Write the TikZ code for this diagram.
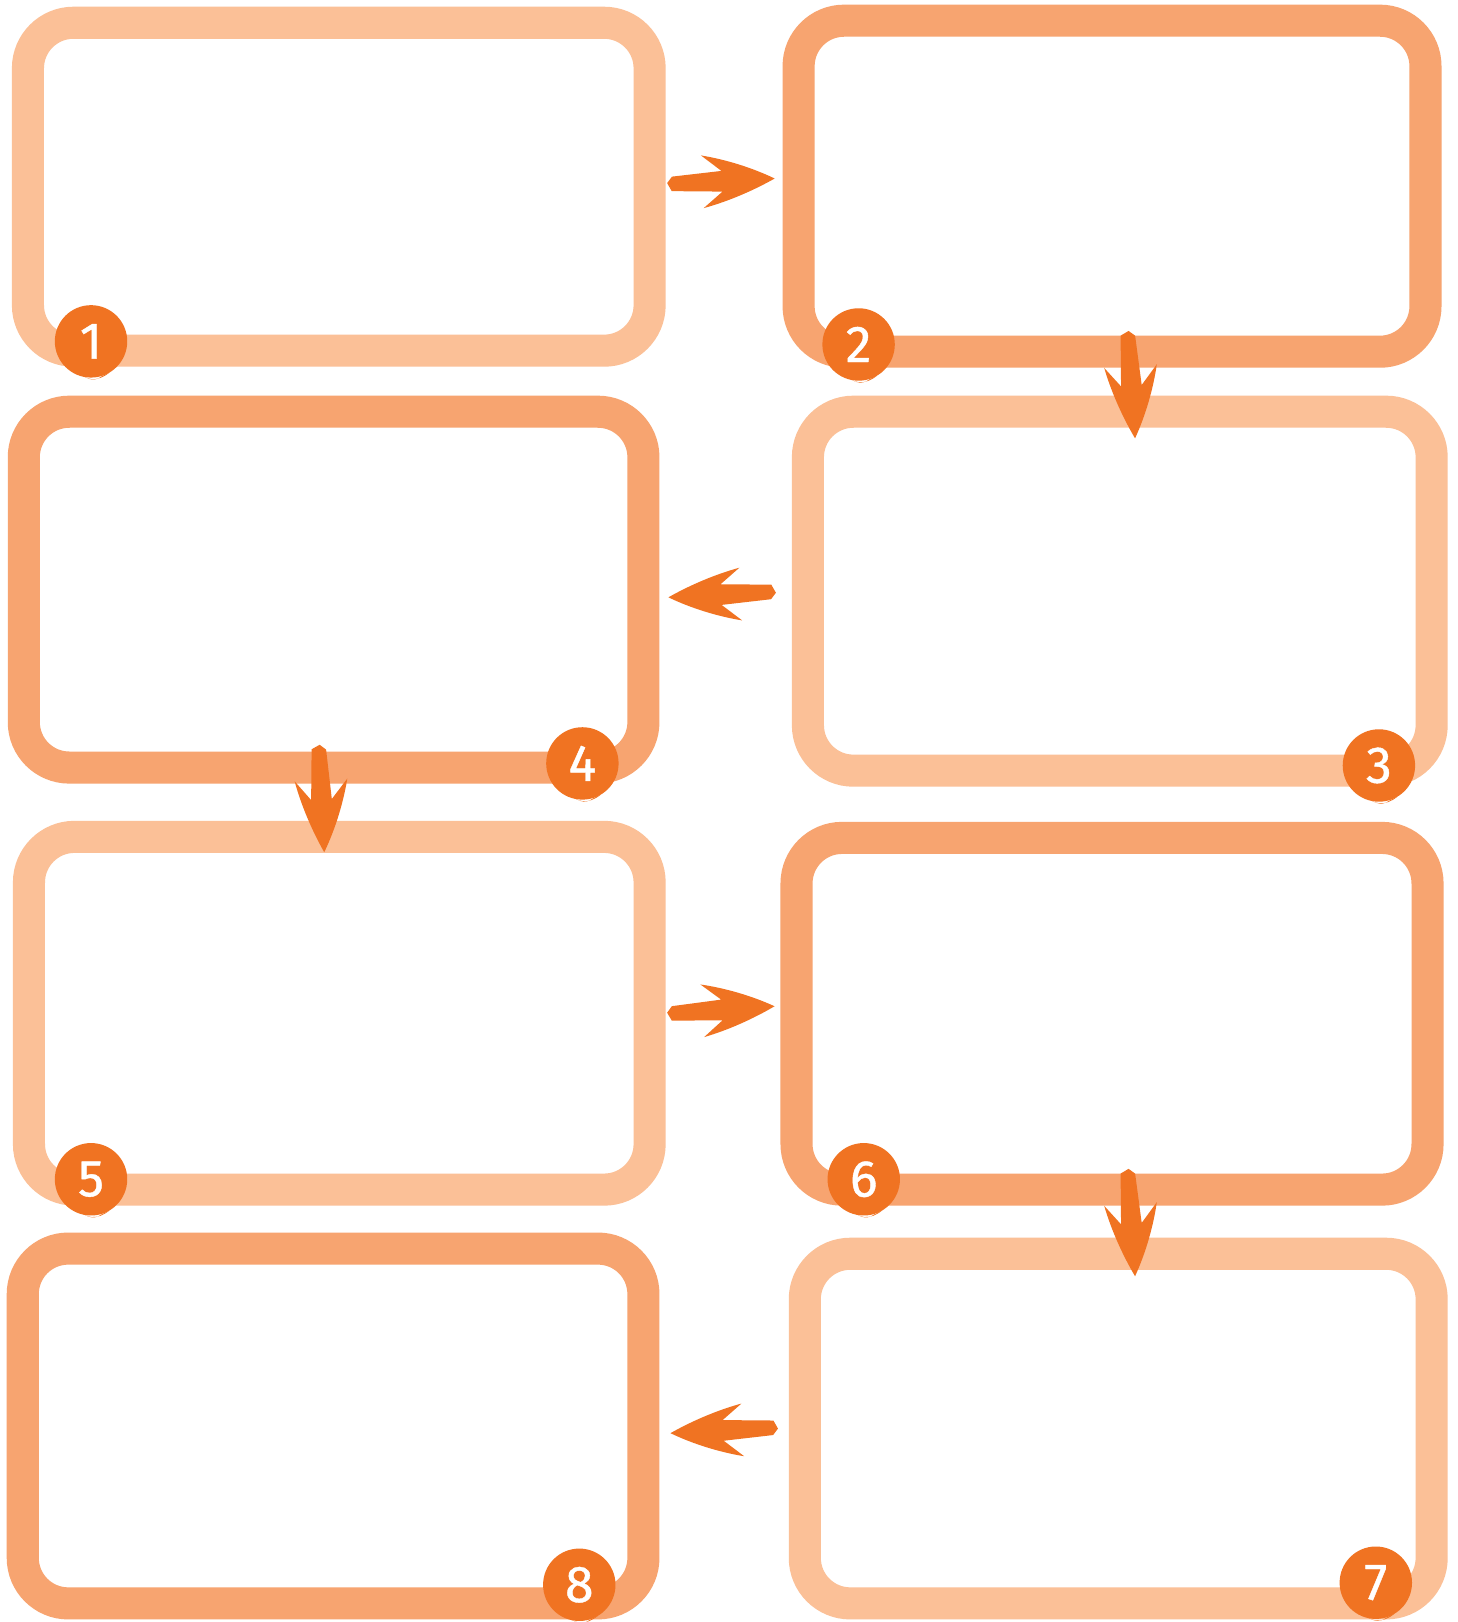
\documentclass[tikz,border=0pt]{standalone}
\usepackage{fontspec}
\setmainfont{Fira Sans}
\newfontfamily\numfont[FakeBold=0.8]{Fira Sans}
\definecolor{lightc}{HTML}{FBC097}
\definecolor{darkc}{HTML}{F7A470}
\definecolor{accentc}{HTML}{F07322}
\tikzset{
  framebox/.style={draw, line width=31pt, rounded corners=44pt, fill=none},
  lightframe/.style={framebox, draw=lightc},
  darkframe/.style={framebox, draw=darkc},
  numcirc/.style={circle, fill=accentc, minimum size=70pt, inner sep=0pt, text=white, font=\numfont\fontsize{50}{50}\selectfont},
  barrow/.pic={\fill[accentc] (0,-1) -- (5,-7) -- (53,-10) -- (34,-26)
      .. controls (57,-21) and (82,-12) .. (104,0)
      .. controls (82,11) and (57,20) .. (34,25) -- (53,10) -- (4,7) -- cycle;},
  swoosh/.pic={\fill[accentc] (-14,28) .. controls (-6,38) and (6,40) .. (18,30) -- (10,34) .. controls (2,40) and (-6,36) .. (-14,28) -- cycle;}
}
\begin{document}
\begin{tikzpicture}[x=1pt,y=-1pt]
\useasboundingbox[fill=white] (0,0) rectangle (1409,1568);
% frames (centerline corners)
\draw[lightframe] (27,22) rectangle (628,339);
\draw[darkframe]  (772,20) rectangle (1378,340);
\draw[lightframe] (781,398) rectangle (1384,745);
\draw[darkframe]  (23,398) rectangle (622,742);
\draw[lightframe] (28,809) rectangle (628,1150);
\draw[darkframe]  (770,810) rectangle (1380,1150);
\draw[lightframe] (778,1212) rectangle (1384,1550);
\draw[darkframe]  (22,1207) rectangle (622,1550);
% arrows
\pic[rotate=3]   at (645,178)  {barrow};
\pic[rotate=-86] at (1090,320) {barrow};
\pic[rotate=183] at (750,572)  {barrow};
\pic[rotate=-87] at (308,720)  {barrow};
\pic[rotate=4]   at (645,980)  {barrow};
\pic[rotate=-86] at (1090,1130){barrow};
\pic[rotate=183] at (752,1380) {barrow};
% number circles
\foreach \p in {(88,330),(830,333),(1333,740),(563,738),(88,1140),(835,1140),(1330,1530),(560,1532)}
  \pic at \p {swoosh};
\node[numcirc] (n1) at (88,330)   {1};
\node[numcirc] (n2) at (830,333)  {2};
\node[numcirc] (n3) at (1333,740) {3};
\node[numcirc] (n4) at (563,738)  {4};
\node[numcirc] (n5) at (88,1140)  {5};
\node[numcirc] (n6) at (835,1140) {6};
\node[numcirc] (n7) at (1330,1530){7};
\node[numcirc] (n8) at (560,1532) {8};
\end{tikzpicture}
\end{document}
